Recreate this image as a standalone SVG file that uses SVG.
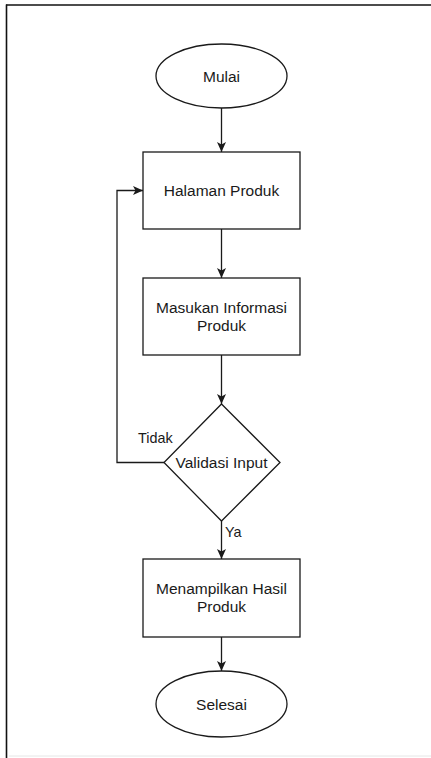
<svg xmlns="http://www.w3.org/2000/svg" width="431" height="758" viewBox="0 0 431 758">
  <style>
    .shape { fill: #ffffff; stroke: #1a1a1a; stroke-width: 1.3; }
    .edge { fill: none; stroke: #1a1a1a; stroke-width: 1.3; }
    .label { font-family: "Liberation Sans", Arial, Helvetica, sans-serif; font-size: 15.5px; fill: #1a1a1a; text-anchor: middle; }
    .edge-label { font-family: "Liberation Sans", Arial, Helvetica, sans-serif; font-size: 14.4px; fill: #1a1a1a; }
  </style>
  <defs>
    <marker id="arrow" markerUnits="userSpaceOnUse" markerWidth="11" markerHeight="10" refX="10" refY="4.5" orient="auto">
      <path d="M0,0 L10,4.5 L0,9 L2.5,4.5 Z" fill="#1a1a1a"/>
    </marker>
  </defs>

  <!-- page background and frame -->
  <rect x="0" y="0" width="431" height="758" fill="#ffffff"/>
  <line x1="6" y1="5" x2="431" y2="5" stroke="#111" stroke-width="1.6"/>
  <line x1="6.5" y1="4.5" x2="6.5" y2="758" stroke="#111" stroke-width="1.6"/>
  <line x1="9" y1="756" x2="431" y2="756" stroke="#e6e6e6" stroke-width="1"/>

  <!-- connectors -->
  <g id="connectors">
    <line class="edge" x1="221.5" y1="108" x2="221.5" y2="152" marker-end="url(#arrow)"/>
    <line class="edge" x1="221.5" y1="229" x2="221.5" y2="278" marker-end="url(#arrow)"/>
    <line class="edge" x1="221.5" y1="355" x2="221.5" y2="404" marker-end="url(#arrow)"/>
    <line class="edge" x1="221.5" y1="521" x2="221.5" y2="559" marker-end="url(#arrow)"/>
    <line class="edge" x1="221.5" y1="637" x2="221.5" y2="671" marker-end="url(#arrow)"/>
    <polyline class="edge" points="164,462.5 117,462.5 117,190.5 143,190.5" marker-end="url(#arrow)"/>
    <text class="edge-label" x="138" y="443">Tidak</text>
    <text class="edge-label" x="225" y="537">Ya</text>
  </g>

  <!-- nodes -->
  <g id="mulai">
    <ellipse class="shape" cx="221.5" cy="76" rx="65.5" ry="32"/>
    <text class="label" x="221.5" y="81.5">Mulai</text>
  </g>

  <g id="halaman-produk">
    <rect class="shape" x="143" y="152" width="157" height="77"/>
    <text class="label" x="221.5" y="196">Halaman Produk</text>
  </g>

  <g id="masukan-informasi">
    <rect class="shape" x="143" y="278" width="157" height="77"/>
    <text class="label" x="221.5" y="313">Masukan Informasi</text>
    <text class="label" x="221.5" y="331">Produk</text>
  </g>

  <g id="validasi-input">
    <polygon class="shape" points="221.5,404 280,462.5 221.5,521 164,462.5"/>
    <text class="label" x="221.5" y="468">Validasi Input</text>
  </g>

  <g id="menampilkan-hasil">
    <rect class="shape" x="143" y="559" width="157" height="78"/>
    <text class="label" x="221.5" y="594">Menampilkan Hasil</text>
    <text class="label" x="221.5" y="612">Produk</text>
  </g>

  <g id="selesai">
    <ellipse class="shape" cx="221.5" cy="704" rx="65.5" ry="33"/>
    <text class="label" x="221.5" y="709.5">Selesai</text>
  </g>
</svg>
